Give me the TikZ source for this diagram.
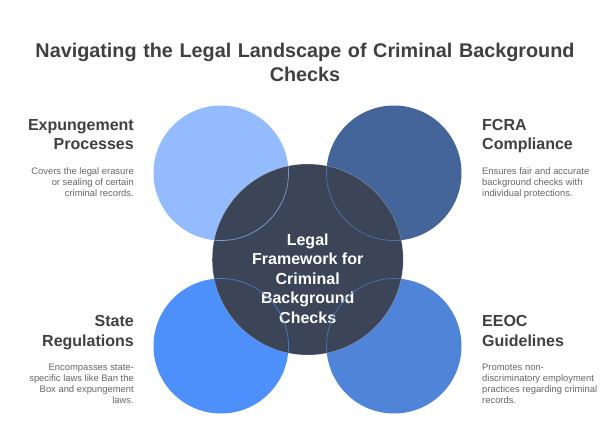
\documentclass[tikz,border=0pt]{standalone}
\usepackage{fontspec}
\setmainfont{Liberation Sans}
\definecolor{cA}{HTML}{93BBFD}
\definecolor{cB}{HTML}{446599}
\definecolor{cC}{HTML}{4D90FB}
\definecolor{cD}{HTML}{5084D8}
\definecolor{cM}{HTML}{3B4557}
\definecolor{tit}{HTML}{404040}
\definecolor{sub}{HTML}{666666}
\tikzset{
  disc/.style={circle,inner sep=0pt,minimum size=135pt,draw=none},
  rim/.style={circle,inner sep=0pt,minimum size=135pt,draw=#1,line width=0.7pt,fill=none},
  titlebox/.style={font=\bfseries\fontsize{19.8}{24.5}\selectfont,text=tit,align=center,text width=580pt,inner sep=0pt},
  headL/.style={font=\bfseries\fontsize{16}{19.6}\selectfont,text=tit,align=right,anchor=north east,inner sep=0pt},
  headR/.style={font=\bfseries\fontsize{16}{19.6}\selectfont,text=tit,align=left,anchor=north west,inner sep=0pt},
  bodyL/.style={font=\fontsize{9.4}{11}\selectfont,text=sub,align=right,anchor=north east,inner sep=0pt},
  bodyR/.style={font=\fontsize{9.4}{11}\selectfont,text=sub,align=left,anchor=north west,inner sep=0pt},
}
\begin{document}
\begin{tikzpicture}[x=1pt,y=-1pt]
\useasboundingbox (0,0) rectangle (616,424);
\fill[white] (0,0) rectangle (616,424);
\node[titlebox] (title) at (305,62.5) {Navigating the Legal Landscape of Criminal Background\\Checks};
\node[disc,fill=cA] (tl) at (221,173) {};
\node[disc,fill=cB] (tr) at (394,173) {};
\node[disc,fill=cC] (bl) at (221,346) {};
\node[disc,fill=cD] (br) at (394,346) {};
\node[circle,inner sep=0pt,minimum size=191pt,fill=cM,draw=white,draw opacity=0.3,line width=0.5pt] (hub) at (307.7,259.5) {};
\node[font=\bfseries\fontsize{16}{19.4}\selectfont,text=white,align=center,inner sep=0pt] (hubtext) at (307.7,278.5) {Legal\\Framework for\\Criminal\\Background\\Checks};
\begin{scope}
\clip (hub.center) circle (95.5pt);
\node[rim=cA!75!cM] (tlr) at (221,173) {};
\node[rim=cB!85!cA] (trr) at (394,173) {};
\node[rim=cC!70!cM] (blr) at (221,346) {};
\node[rim=cD!70!cM] (brr) at (394,346) {};
\end{scope}
\node[headL] (h1) at (134,119) {Expungement\\Processes};
\node[bodyL] (b1) at (134,167) {Covers the legal erasure\\or sealing of certain\\criminal records.};
\node[headR] (h2) at (482,119) {FCRA\\Compliance};
\node[bodyR] (b2) at (482,167) {Ensures fair and accurate\\background checks with\\individual protections.};
\node[headL] (h3) at (134,315.5) {State\\Regulations};
\node[bodyL] (b3) at (134,364) {Encompasses state-\\specific laws like Ban the\\Box and expungement\\laws.};
\node[headR] (h4) at (482,315.5) {EEOC\\Guidelines};
\node[bodyR] (b4) at (482,364) {Promotes non-\\discriminatory employment\\practices regarding criminal\\records.};
\end{tikzpicture}
\end{document}
